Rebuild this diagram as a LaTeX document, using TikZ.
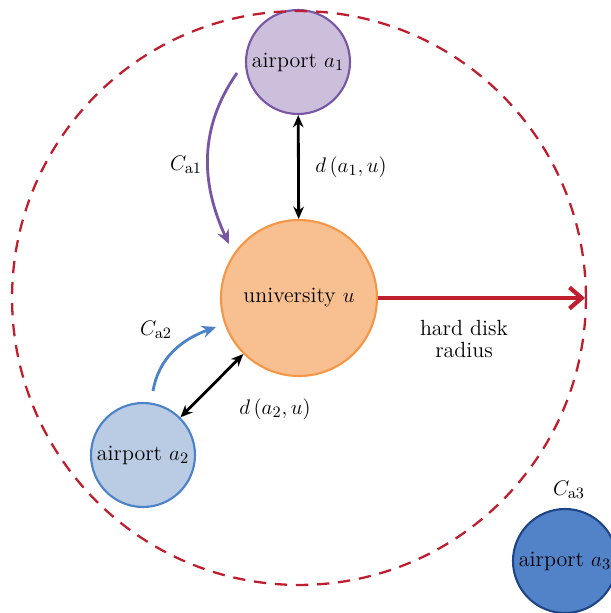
\documentclass[tikz,border=0pt]{standalone}
\usetikzlibrary{arrows.meta}
\definecolor{uniFill}{RGB}{248,192,144}
\definecolor{uniLine}{RGB}{245,150,70}
\definecolor{aOneFill}{RGB}{204,191,220}
\definecolor{aOneLine}{RGB}{120,85,165}
\definecolor{aTwoFill}{RGB}{185,204,228}
\definecolor{aTwoLine}{RGB}{75,130,200}
\definecolor{aThreeFill}{RGB}{82,130,200}
\definecolor{aThreeLine}{RGB}{30,70,135}
\definecolor{diskRed}{RGB}{190,30,45}
\begin{document}
\begin{tikzpicture}[x=0.02cm, y=-0.02cm, every node/.style={font=\fontsize{12.5}{14}\selectfont}]
        \tikzstyle{site} = [circle, line width=1.2pt, minimum size=2.08cm, inner sep=0pt]
        \tikzstyle{dist} = [line width=1.6pt, {Stealth[length=7pt, width=6pt]}-{Stealth[length=7pt, width=6pt]}]
        \useasboundingbox (0,0) rectangle (611,613);
        \clip (0,0) rectangle (611,613);
        \node [site, draw=uniLine, fill=uniFill, minimum size=3.12cm] (u) at (299,298) {university $u$};
        \node [site, draw=aOneLine, fill=aOneFill] (a1) at (298,62) {airport $a_1$};
        \node [site, draw=aTwoLine, fill=aTwoFill] (a2) at (143,455) {airport $a_2$};
        \node [site, draw=aThreeLine, fill=aThreeFill] (a3) at (565,561) {airport $a_3$};
        \draw [diskRed, line width=1.3pt, dash pattern=on 7pt off 5pt] (u.center) circle [radius=5.74cm];
        \coordinate (rim) at (585,298);
        \draw [diskRed, line width=2.4pt, -{Straight Barb[length=7pt, width=12pt]}] (u) -- (rim);
        \node [align=center] (hd) at (464,339) {hard disk\\[-1pt]radius};
        \draw [dist] (a1) -- (u);
        \draw [dist] (a2) -- (u);
        \node (d1) at (351,167) {$d\,(a_1, u)$};
        \node (d2) at (275,409) {$d\,(a_2, u)$};
        % cost arcs
        \coordinate (c1s) at (237,73); \coordinate (c1e) at (229,244);
        \draw [aOneLine, line width=1.6pt, -{Stealth[length=8pt, width=7pt]}] (c1s) to [out=235, in=115] (c1e);
        \coordinate (c2s) at (153,391); \coordinate (c2e) at (216,327);
        \draw [aTwoLine, line width=1.6pt, -{Stealth[length=8pt, width=7pt]}] (c2s) to [out=80, in=200] (c2e);
        \node (ca1) at (186,165) {$C_{\mathrm{a1}}$};
        \node (ca2) at (156,330) {$C_{\mathrm{a2}}$};
        \node (ca3) at (569,490) {$C_{\mathrm{a3}}$};
    \end{tikzpicture}
\end{document}
